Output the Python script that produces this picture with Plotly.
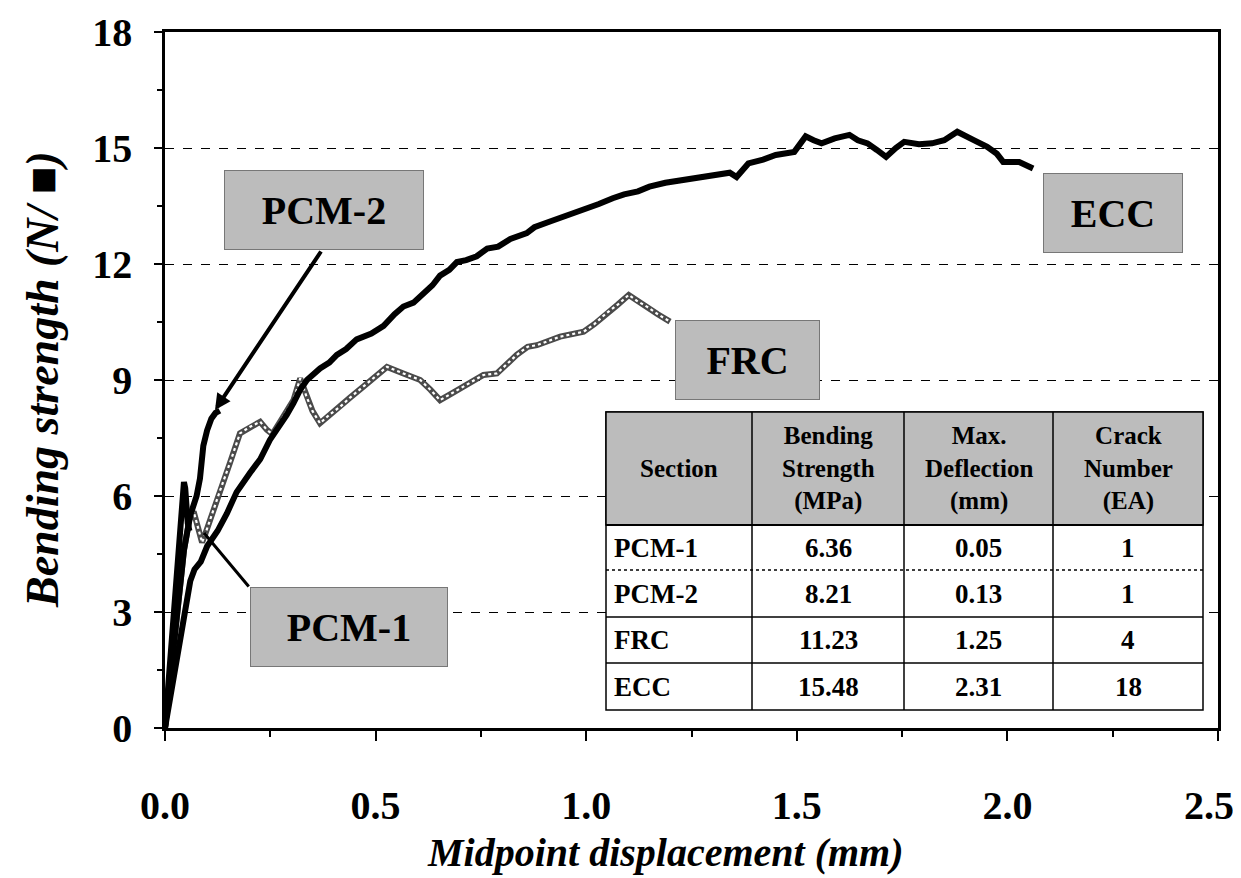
import plotly.graph_objects as go

# ---------------- data ----------------
ecc_x = [0, 0.02, 0.04, 0.06, 0.07, 0.085, 0.1, 0.125, 0.147, 0.17, 0.202, 0.226, 0.249, 0.265, 0.289,
         0.305, 0.321, 0.337, 0.368, 0.39, 0.408, 0.43, 0.455, 0.49, 0.519, 0.545, 0.566, 0.59, 0.614,
         0.635, 0.653, 0.675, 0.693, 0.715, 0.740, 0.765, 0.791, 0.82, 0.859, 0.877, 0.914, 0.94, 0.970,
         1.0, 1.03, 1.063, 1.09, 1.123, 1.15, 1.188, 1.22, 1.254, 1.29, 1.32, 1.341, 1.357, 1.385, 1.42,
         1.450, 1.494, 1.521, 1.54, 1.559, 1.59, 1.625, 1.645, 1.668, 1.69, 1.712, 1.735, 1.755, 1.79,
         1.821, 1.85, 1.881, 1.919, 1.952, 1.975, 1.990, 2.028, 2.061]
ecc_y = [0, 1.3, 2.7, 3.8, 4.1, 4.3, 4.7, 5.1, 5.55, 6.1, 6.6, 6.95, 7.45, 7.7, 8.1,
         8.4, 8.75, 9.0, 9.3, 9.45, 9.65, 9.8, 10.05, 10.2, 10.4, 10.7, 10.9, 11.0, 11.25,
         11.45, 11.7, 11.85, 12.05, 12.1, 12.2, 12.4, 12.45, 12.65, 12.8, 12.95, 13.1, 13.2, 13.3,
         13.45, 13.55, 13.7, 13.8, 13.88, 14.0, 14.1, 14.15, 14.22, 14.28, 14.32, 14.36, 14.25, 14.6, 14.7,
         14.82, 14.9, 15.3, 15.2, 15.12, 15.25, 15.34, 15.2, 15.12, 14.95, 14.77, 15.0, 15.16, 15.1,
         15.12, 15.2, 15.42, 15.21, 15.03, 14.85, 14.64, 14.64, 14.47]

frc_x = [0, 0.015, 0.03, 0.045, 0.058, 0.068, 0.078, 0.088, 0.095, 0.107, 0.131, 0.154, 0.178, 0.202,
         0.226, 0.242, 0.255, 0.275, 0.29, 0.305, 0.321, 0.335, 0.35, 0.368, 0.39, 0.416, 0.44, 0.471,
         0.5, 0.527, 0.566, 0.606, 0.63, 0.653, 0.68, 0.701, 0.73, 0.756, 0.788, 0.81, 0.835, 0.861,
         0.883, 0.938, 0.994, 1.02, 1.047, 1.075, 1.101, 1.12, 1.145, 1.17, 1.199]
frc_y = [0, 1.6, 3.2, 4.6, 5.4, 5.6, 5.2, 4.8, 5.0, 5.4, 6.15, 6.85, 7.62, 7.79,
         7.92, 7.71, 7.6, 7.95, 8.2, 8.48, 9.04, 8.6, 8.2, 7.88, 8.1, 8.31, 8.55, 8.83,
         9.1, 9.34, 9.17, 9.0, 8.75, 8.48, 8.65, 8.78, 8.95, 9.13, 9.17, 9.4, 9.65, 9.86,
         9.9, 10.12, 10.25, 10.45, 10.72, 10.95, 11.2, 11.05, 10.89, 10.7, 10.51]

pcm1_x = [0, 0.012, 0.025, 0.035, 0.042, 0.045, 0.048, 0.051, 0.054, 0.058]
pcm1_y = [0, 1.8, 3.6, 5.0, 5.9, 6.36, 6.2, 5.6, 5.3, 5.1]

pcm2_x = [0, 0.015, 0.03, 0.045, 0.06, 0.075, 0.083, 0.091, 0.1, 0.11, 0.12, 0.13]
pcm2_y = [0, 1.5, 3.3, 4.6, 5.5, 6.0, 6.45, 7.3, 7.7, 8.0, 8.15, 8.21]

x_ticks = [0.0, 0.5, 1.0, 1.5, 2.0, 2.5]
x_tick_labels = ["0.0", "0.5", "1.0", "1.5", "2.0", "2.5"]
y_ticks = [0, 3, 6, 9, 12, 15, 18]

table_header = ["Section", "Bending<br>Strength<br>(MPa)", "Max.<br>Deflection<br>(mm)", "Crack<br>Number<br>(EA)"]
sections = ["PCM-1", "PCM-2", "FRC", "ECC"]
strength = ["6.36", "8.21", "11.23", "15.48"]
deflection = ["0.05", "0.13", "1.25", "2.31"]
cracks = ["1", "1", "4", "18"]

# ---------------- figure ----------------
FONT = "Liberation Serif"
GREY = "#bcbcbc"
OFF = 8                      # page body margin
W, H = 1241 - OFF, 878 - OFF
ML, MR, MT, MB = 165 - OFF, 23, 32 - OFF, 150
PW, PH = W - ML - MR, H - MT - MB

def px_x(p):
    return (p - OFF - ML) / PW

def px_y(p):
    return (H - MB - (p - OFF)) / PH

fig = go.Figure()

# FRC: hollow grey chain-like line
fig.add_trace(go.Scatter(x=frc_x, y=frc_y, mode="lines",
                         line=dict(color="#4a4a4a", width=6), showlegend=False, hoverinfo="skip"))
fig.add_trace(go.Scatter(x=frc_x, y=frc_y, mode="lines",
                         line=dict(color="white", width=2.2, dash="dot"), showlegend=False, hoverinfo="skip"))
for xs, ys in [(ecc_x, ecc_y), (pcm1_x, pcm1_y), (pcm2_x, pcm2_y)]:
    fig.add_trace(go.Scatter(x=xs, y=ys, mode="lines",
                             line=dict(color="black", width=6), showlegend=False, hoverinfo="skip"))

# label boxes
labels = [("PCM-2", 324, 210, 198), ("ECC", 1113, 213, 138), ("FRC", 747, 360, 143), ("PCM-1", 349, 627, 196)]
for txt, cx, cy, w in labels:
    fig.add_annotation(x=px_x(cx), y=px_y(cy), xref="paper", yref="paper", text=txt, showarrow=False,
                       width=w, height=78, bgcolor=GREY, bordercolor="#777", borderwidth=1, borderpad=0,
                       font=dict(family=FONT, size=40, color="black", weight="bold"),
                       xanchor="center", yanchor="middle", align="center", valign="middle")

# PCM-2 arrow
fig.add_annotation(x=px_x(215), y=px_y(410), xref="x domain", yref="y domain",
                   ax=px_x(322), ay=px_y(250), axref="x domain", ayref="y domain", text="",
                   showarrow=True, arrowhead=2, arrowsize=0.8, arrowwidth=4, arrowcolor="black")
# PCM-1 pointer
fig.add_annotation(x=px_x(204), y=px_y(533), xref="x domain", yref="y domain",
                   ax=px_x(250), ay=px_y(588), axref="x domain", ayref="y domain", text="",
                   showarrow=True, arrowhead=0, arrowwidth=3, arrowcolor="black")

# axis titles
fig.add_annotation(x=px_x(665), y=px_y(852), xref="paper", yref="paper", text="Midpoint displacement (mm)",
                   showarrow=False, xanchor="center", yanchor="middle",
                   font=dict(family=FONT, size=40, color="black", weight="bold", style="italic"))
fig.add_annotation(x=px_x(42), y=px_y(380), xref="paper", yref="paper", text="Bending strength (N/ ■)",
                   showarrow=False, xanchor="center", yanchor="middle", textangle=-90,
                   font=dict(family=FONT, size=46, color="black", weight="bold", style="italic"))

# last x tick label: placed just inside the page edge, as in the reference
fig.add_annotation(x=px_x(1236), y=px_y(805), xref="paper", yref="paper", text=x_tick_labels[-1],
                   showarrow=False, xanchor="right", yanchor="middle",
                   font=dict(family=FONT, size=40, color="black", weight="bold"))

# table
col_edges = [606, 752, 904, 1053, 1203]
row_edges = [412, 525, 570, 617, 663, 710]
shapes = []
shapes.append(dict(type="rect", xref="paper", yref="paper",
                   x0=px_x(col_edges[0]), x1=px_x(col_edges[-1]), y0=px_y(row_edges[0]), y1=px_y(row_edges[-1]),
                   fillcolor="white", line=dict(color="black", width=1.5), layer="above"))
shapes.append(dict(type="rect", xref="paper", yref="paper",
                   x0=px_x(col_edges[0]), x1=px_x(col_edges[-1]), y0=px_y(row_edges[0]), y1=px_y(row_edges[1]),
                   fillcolor=GREY, line=dict(color="black", width=1.5), layer="above"))
for i, r in enumerate(row_edges[1:-1]):
    shapes.append(dict(type="line", xref="paper", yref="paper",
                       x0=px_x(col_edges[0]), x1=px_x(col_edges[-1]), y0=px_y(r), y1=px_y(r),
                       line=dict(color="black", width=2 if i == 0 else 1.5, dash="dot" if i == 1 else "solid"),
                       layer="above"))
for c in col_edges[1:-1]:
    shapes.append(dict(type="line", xref="paper", yref="paper",
                       x0=px_x(c), x1=px_x(c), y0=px_y(row_edges[0]), y1=px_y(row_edges[-1]),
                       line=dict(color="black", width=1.5), layer="above"))

for j, htxt in enumerate(table_header):
    cx = (col_edges[j] + col_edges[j + 1]) / 2
    cy = (row_edges[0] + row_edges[1]) / 2
    fig.add_annotation(x=px_x(cx), y=px_y(cy), xref="paper", yref="paper", text=htxt, showarrow=False,
                       font=dict(family=FONT, size=25, color="black", weight="bold"),
                       xanchor="center", yanchor="middle", align="center")
columns = [sections, strength, deflection, cracks]
for j, col in enumerate(columns):
    for i, val in enumerate(col):
        cy = (row_edges[i + 1] + row_edges[i + 2]) / 2
        if j == 0:
            xx, xa = px_x(col_edges[0] + 6), "left"
        else:
            xx, xa = px_x((col_edges[j] + col_edges[j + 1]) / 2), "center"
        fig.add_annotation(x=xx, y=px_y(cy), xref="paper", yref="paper", text=val, showarrow=False,
                           font=dict(family=FONT, size=27, color="black", weight="bold"),
                           xanchor=xa, yanchor="middle")

tick_text = x_tick_labels[:-1] + [""]

fig.update_layout(
    width=W, height=H,
    margin=dict(l=ML, r=MR, t=MT, b=MB, autoexpand=False),
    plot_bgcolor="white", paper_bgcolor="white",
    shapes=shapes,
    showlegend=False,
    xaxis=dict(range=[0, 2.5], tickvals=x_ticks, ticktext=tick_text,
               automargin=False, ticklabeloverflow="allow",
               showline=True, linecolor="black", linewidth=2.5, mirror=True,
               ticks="outside", ticklen=10, tickwidth=2, tickcolor="black",
               minor=dict(tickvals=[0.25, 0.75, 1.25, 1.75, 2.25], ticks="outside", ticklen=6, tickwidth=1.5, tickcolor="black"),
               showgrid=False, zeroline=False, ticklabelstandoff=30,
               tickfont=dict(family=FONT, size=40, color="black", weight="bold")),
    yaxis=dict(range=[0, 18], tickvals=y_ticks, automargin=False, ticklabeloverflow="allow",
               showline=True, linecolor="black", linewidth=2.5, mirror=True,
               ticks="outside", ticklen=8, tickwidth=2, tickcolor="black",
               minor=dict(tickvals=[1.5, 4.5, 7.5, 10.5, 13.5, 16.5], ticks="outside", ticklen=5, tickwidth=1.5, tickcolor="black"),
               showgrid=True, gridcolor="black", gridwidth=1, griddash="dash",
               zeroline=False, ticklabelstandoff=14,
               tickfont=dict(family=FONT, size=40, color="black", weight="bold")),
)

fig.write_html("out.html")
